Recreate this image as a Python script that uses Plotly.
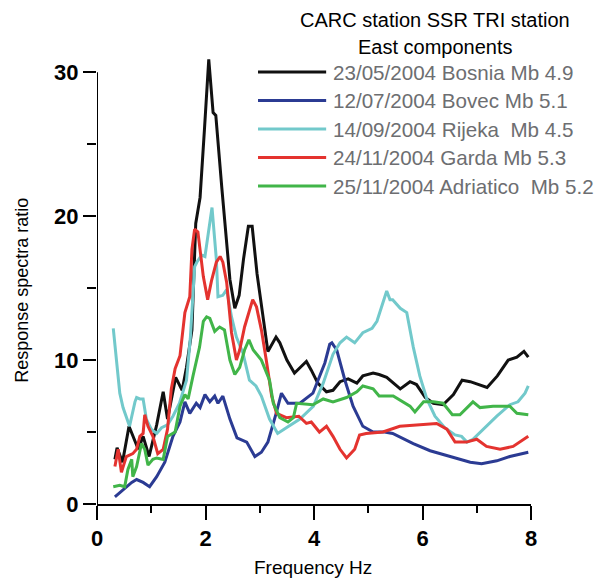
import plotly.graph_objects as go

# Data
bosnia_f = [0.33, 0.37, 0.47, 0.59, 0.76, 0.85, 0.96, 1.1, 1.22, 1.3, 1.45, 1.57, 1.65, 1.75, 1.82, 1.9, 1.98,
            2.06, 2.14, 2.19, 2.3, 2.45, 2.54, 2.62, 2.7, 2.79, 2.86, 2.95, 3.05, 3.15, 3.3, 3.37, 3.5, 3.64,
            3.75, 3.86, 3.95, 4.07, 4.23, 4.35, 4.48, 4.63, 4.79, 4.9, 5.09, 5.2, 5.34, 5.59, 5.77, 5.89, 6.05,
            6.2, 6.38, 6.57, 6.73, 6.88, 7.19, 7.38, 7.58, 7.74, 7.87, 7.95]
bosnia_r = [3.1, 3.9, 2.9, 5.4, 3.8, 4.7, 3.3, 5.5, 7.8, 5.9, 8.8, 7.9, 9.5, 12.1, 19.5, 21.3, 26.0,
            30.9, 27.2, 27.0, 22.0, 15.6, 13.6, 14.5, 17.0, 19.3, 19.3, 16.0, 13.3, 10.6, 11.6, 11.2, 10.0, 9.1,
            9.5, 9.9, 9.3, 8.4, 7.8, 7.9, 8.5, 8.7, 8.4, 8.9, 9.1, 9.0, 8.8, 8.0, 8.5, 8.3, 7.4,
            7.0, 6.9, 7.6, 8.6, 8.5, 8.1, 8.9, 10.0, 10.2, 10.6, 10.2]

bovec_f = [0.33, 0.48, 0.64, 0.73, 0.85, 0.97, 1.1, 1.25, 1.4, 1.53, 1.62, 1.71, 1.83, 1.9, 1.99, 2.08, 2.17,
           2.23, 2.32, 2.45, 2.58, 2.76, 2.91, 3.03, 3.15, 3.31, 3.4, 3.52, 3.74, 3.98, 4.2, 4.29, 4.33, 4.42,
           4.57, 4.72, 4.9, 5.09, 5.3, 5.45, 5.83, 6.14, 6.41, 6.69, 6.88, 7.09, 7.37, 7.61, 7.95]
bovec_r = [0.5, 1.0, 1.5, 1.7, 1.5, 1.2, 1.9, 2.9, 4.7, 5.7, 7.1, 6.3, 7.0, 6.7, 7.6, 7.1, 7.5,
           7.0, 7.5, 5.9, 4.6, 4.3, 3.3, 3.6, 4.3, 6.4, 7.7, 7.0, 7.0, 7.7, 9.8, 11.1, 11.2, 10.7,
           8.6, 6.8, 5.4, 5.0, 5.0, 4.9, 4.2, 3.7, 3.4, 3.1, 2.9, 2.8, 3.0, 3.3, 3.6]

rijeka_f = [0.3, 0.36, 0.42, 0.48, 0.57, 0.6, 0.7, 0.73, 0.79, 0.85, 0.91, 1.0, 1.1, 1.19, 1.3, 1.4, 1.52,
            1.65, 1.72, 1.8, 1.84, 1.93, 1.99, 2.06, 2.12, 2.2, 2.23, 2.32, 2.39, 2.48, 2.57, 2.69, 2.81,
            2.93, 3.03, 3.18, 3.33, 3.49, 3.74, 3.99, 4.17, 4.35, 4.48, 4.6, 4.75, 4.9, 5.07, 5.16, 5.25,
            5.34, 5.4, 5.45, 5.59, 5.71, 5.83, 5.95, 6.08, 6.23, 6.41, 6.6, 6.72, 6.82, 6.93, 7.12, 7.37,
            7.61, 7.76, 7.89, 7.95]
rijeka_r = [12.2, 9.8, 7.7, 6.7, 5.7, 5.4, 7.1, 7.4, 7.3, 7.3, 5.9, 5.2, 4.9, 5.3, 5.5, 6.1, 7.0,
            8.6, 11.5, 16.5, 16.8, 17.3, 17.2, 19.0, 20.6, 17.0, 14.4, 14.5, 14.9, 13.0, 11.6, 10.5, 8.6,
            8.2, 7.5, 5.9, 4.9, 5.3, 5.9, 6.8, 8.4, 10.4, 11.2, 11.6, 11.2, 11.9, 12.2, 12.7, 13.8,
            14.8, 14.2, 14.2, 13.6, 13.3, 10.9, 8.9, 7.3, 6.1, 5.3, 4.8, 4.7, 4.3, 4.5, 5.2, 6.1,
            6.9, 7.1, 7.7, 8.2]

garda_f = [0.33, 0.39, 0.45, 0.54, 0.66, 0.73, 0.79, 0.85, 0.88, 0.94, 1.03, 1.12, 1.22, 1.3, 1.37, 1.44,
           1.53, 1.62, 1.71, 1.75, 1.8, 1.86, 1.96, 2.04, 2.11, 2.2, 2.27, 2.32, 2.39, 2.48, 2.57, 2.63,
           2.72, 2.87, 2.94, 3.03, 3.12, 3.22, 3.31, 3.49, 3.72, 3.86, 3.95, 4.1, 4.23, 4.35, 4.48, 4.6,
           4.75, 4.84, 4.96, 5.27, 5.58, 5.89, 6.26, 6.45, 6.6, 6.81, 7.0, 7.18, 7.43, 7.67, 7.95]
garda_r = [2.6, 3.8, 2.2, 3.3, 3.5, 3.8, 4.7, 4.9, 6.2, 5.4, 4.7, 3.5, 3.8, 5.2, 8.0, 9.4,
           10.3, 13.3, 14.4, 17.7, 19.1, 18.9, 15.8, 14.2, 15.5, 16.8, 17.2, 16.8, 15.4, 11.9, 10.0, 10.7,
           12.3, 14.2, 13.7, 12.1, 10.0, 7.5, 6.3, 6.0, 6.1, 5.6, 5.7, 5.0, 5.4, 4.7, 3.8, 3.2,
           3.8, 4.8, 4.9, 5.0, 5.4, 5.5, 5.6, 5.2, 4.3, 4.3, 4.5, 4.0, 3.8, 4.0, 4.7]

adriatico_f = [0.3, 0.42, 0.51, 0.57, 0.64, 0.66, 0.73, 0.82, 0.88, 0.94, 1.03, 1.1, 1.22, 1.3, 1.44, 1.53,
               1.62, 1.68, 1.77, 1.83, 1.89, 1.96, 2.02, 2.08, 2.17, 2.26, 2.35, 2.45, 2.54, 2.63, 2.72, 2.8,
               2.88, 3.03, 3.18, 3.25, 3.37, 3.52, 3.62, 3.68, 3.98, 4.17, 4.35, 4.6, 4.79, 4.9, 5.09, 5.2,
               5.46, 5.77, 5.86, 6.02, 6.2, 6.38, 6.55, 6.69, 6.93, 7.06, 7.3, 7.61, 7.74, 7.95]
adriatico_r = [1.2, 1.3, 1.2, 2.4, 3.1, 1.9, 2.6, 4.2, 3.8, 2.7, 3.1, 3.2, 3.1, 4.7, 5.0, 6.8,
               7.6, 7.3, 8.9, 10.0, 10.9, 12.7, 13.0, 12.9, 12.0, 12.3, 12.1, 10.0, 9.0, 9.5, 10.7, 11.4,
               10.7, 10.0, 8.6, 7.0, 6.0, 5.7, 6.0, 7.0, 6.9, 7.3, 7.1, 7.4, 7.8, 8.2, 8.0, 7.5,
               7.5, 6.8, 6.4, 7.1, 7.1, 7.0, 6.2, 6.2, 7.1, 6.7, 6.8, 6.8, 6.3, 6.2]

labels = ["23/05/2004 Bosnia Mb 4.9", "12/07/2004 Bovec Mb 5.1", "14/09/2004 Rijeka  Mb 4.5",
          "24/11/2004 Garda Mb 5.3", "25/11/2004 Adriatico  Mb 5.2"]
colors = ["#111111", "#2b3b93", "#72c9cb", "#e4332f", "#41b549"]
series = [(bosnia_f, bosnia_r), (bovec_f, bovec_r), (rijeka_f, rijeka_r),
          (garda_f, garda_r), (adriatico_f, adriatico_r)]

FONT = "Liberation Sans"

fig = go.Figure()
for (f, r), name, col in zip(series, labels, colors):
    fig.add_trace(go.Scatter(x=f, y=r, mode="lines", name=name,
                             line=dict(color=col, width=3), showlegend=False))

# hand-made legend so the line samples are as long as in the original
for i, (name, col) in enumerate(zip(labels, colors)):
    yy = 0.962 - i * 0.0635
    fig.add_shape(type="line", xref="paper", yref="paper", x0=0.371, x1=0.528, y0=yy, y1=yy,
                  line=dict(color=col, width=3))
    fig.add_annotation(xref="paper", yref="paper", x=0.54, y=yy, text=name, showarrow=False,
                       xanchor="left", yanchor="middle", font=dict(family=FONT, size=20.6, color="#6d6e71"))

for txt, yy in [("CARC station SSR TRI station", 1.078), ("East components", 1.018)]:
    fig.add_annotation(xref="paper", yref="paper", x=0.779, y=yy, text=txt, showarrow=False,
                       xanchor="center", yanchor="middle", font=dict(family=FONT, size=20, color="black"))

# axis titles
fig.add_annotation(xref="paper", yref="paper", x=0.498, y=-0.1425, text="Frequency Hz",
                   showarrow=False, xanchor="center", yanchor="middle",
                   font=dict(family=FONT, size=19, color="black"))
fig.add_annotation(xref="paper", yref="paper", x=-0.173, y=0.477, text="Response spectra ratio",
                   textangle=-90, showarrow=False, xanchor="center", yanchor="middle",
                   font=dict(family=FONT, size=18, color="black"))

# y axis line stops at 30 although the black peak goes above
fig.add_shape(type="line", xref="x", yref="y", x0=0, x1=0, y0=0, y1=30,
              line=dict(color="black", width=2))

fig.update_xaxes(range=[0, 8], tickvals=[0, 2, 4, 6, 8], ticks="outside", ticklen=14, tickwidth=2,
                 tickcolor="black", showline=True, linecolor="black", linewidth=2, showgrid=False,
                 zeroline=False, minor=dict(ticks="outside", ticklen=7, tickwidth=2, tickcolor="black",
                                            tickvals=[1, 3, 5, 7]),
                 tickfont=dict(family=FONT, size=22, color="black", weight="bold"))
fig.update_yaxes(range=[0, 31.2], tickvals=[0, 10, 20, 30], ticks="outside", ticklen=13, tickwidth=2,
                 tickcolor="black", showline=False, showgrid=False, zeroline=False,
                 minor=dict(ticks="outside", ticklen=9, tickwidth=2, tickcolor="black",
                            tickvals=[5, 15, 25]),
                 tickfont=dict(family=FONT, size=22, color="black", weight="bold"))

# the page adds an 8px body margin, so the margins are pulled in by that much
fig.update_layout(width=616, height=584, margin=dict(l=89, r=93, t=47, b=88),
                  plot_bgcolor="white", paper_bgcolor="white")

fig.write_html("out.html")
